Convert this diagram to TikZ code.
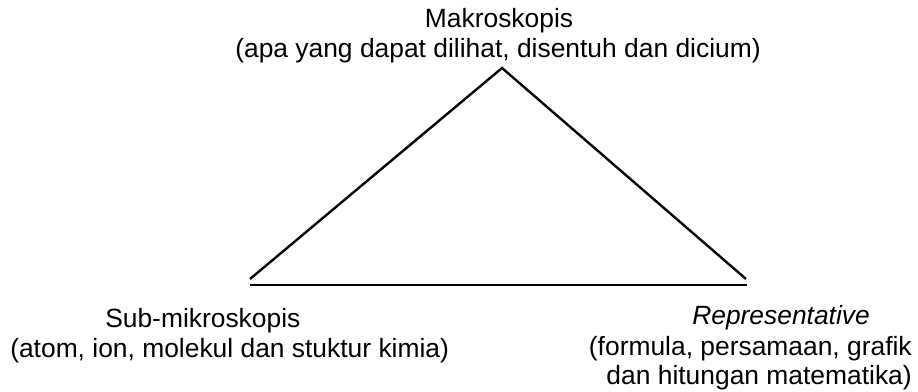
\documentclass[tikz,border=0pt]{standalone}
\usepackage{fontspec}
\setmainfont{Liberation Sans}
\begin{document}
\begin{tikzpicture}[x=0.75pt,y=-0.75pt,
  lbl/.style={inner sep=0pt,font=\fontsize{19.8pt}{24pt}\selectfont},
  edge/.style={line width=1.8pt,line cap=butt}]
\useasboundingbox (0,0) rectangle (918,392);
% triangle corners
\coordinate (apex) at (502,68);
\coordinate (bl) at (250,279);
\coordinate (br) at (746,279);
\coordinate (hl) at (250,285);
\coordinate (hr) at (747,285);
\draw[edge] (bl) -- (apex) -- (br);
\draw[edge] (hl) -- (hr);
% labels
\node[lbl,anchor=base] (mak) at (499,28) {Makroskopis};
\node[lbl,anchor=base] (makd) at (498,58) {(apa yang dapat dilihat, disentuh dan dicium)};
\node[lbl,anchor=base west] (sub) at (105,327) {Sub-mikroskopis};
\node[lbl,anchor=base west] (subd) at (10,357) {(atom, ion, molekul dan stuktur kimia)};
\node[lbl,anchor=base west] (rep) at (692,325) {\itshape Representative};
\node[lbl,anchor=base east] (repd) at (912,355) {(formula, persamaan, grafik};
\node[lbl,anchor=base east] (repe) at (912,384) {dan hitungan matematika)};
\end{tikzpicture}
\end{document}
